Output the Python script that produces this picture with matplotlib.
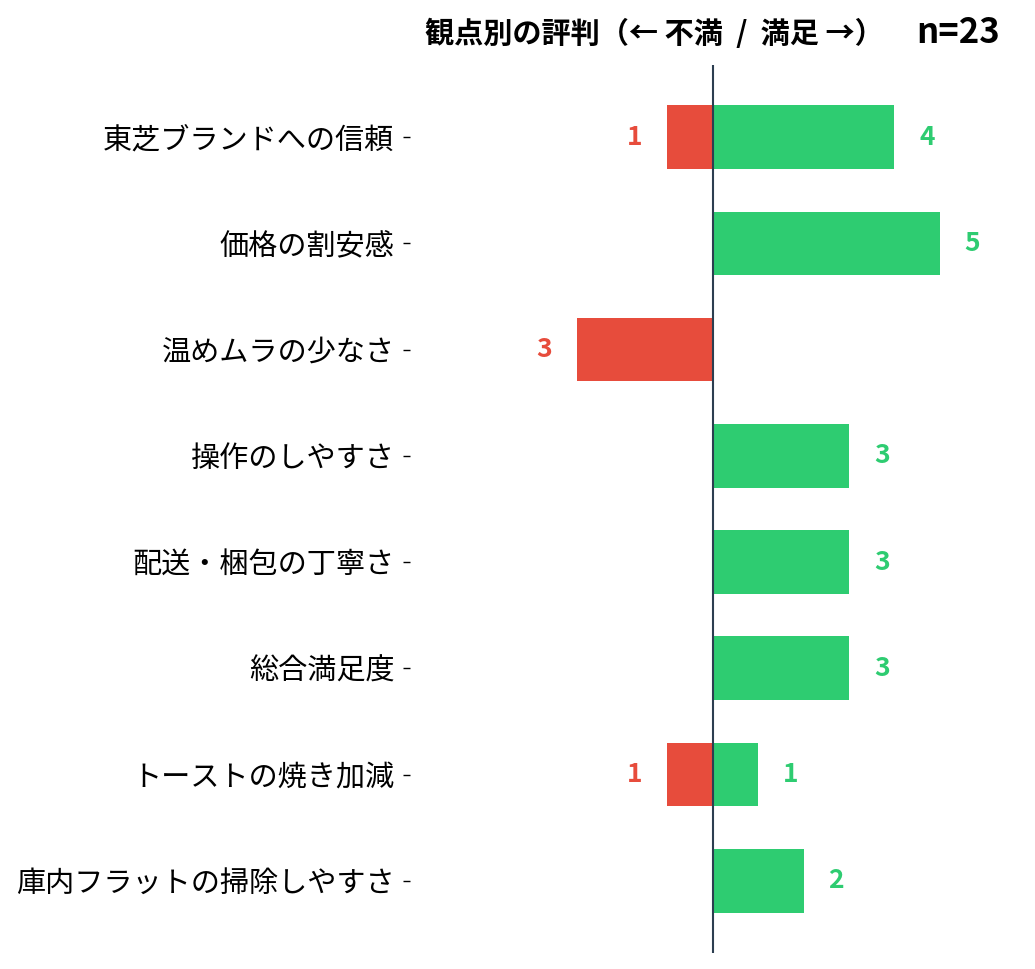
import matplotlib
matplotlib.use('Agg')
import matplotlib.pyplot as plt

plt.rcParams['font.family'] = ['Noto Sans CJK JP', 'DejaVu Sans']

aspects = [
    '東芝ブランドへの信頼', '価格の割安感', '温めムラの少なさ', '操作のしやすさ',
    '配送・梱包の丁寧さ', '総合満足度', 'トーストの焼き加減', '庫内フラットの掃除しやすさ',
]
negative = [1, 0, 3, 0, 0, 0, 1, 0]
positive = [4, 5, 0, 3, 3, 3, 1, 2]
n_reviews = 23

red = '#e74c3c'
green = '#2ecc71'
navy = '#2c3e50'

fig = plt.figure(figsize=(10.35, 9.69), dpi=100)
ax = fig.add_axes([0.396, 0.0165, 0.57, 0.9165])

y = range(len(aspects))
ax.barh(y, [-v for v in negative], height=0.6, color=red)
ax.barh(y, positive, height=0.6, color=green)
ax.axvline(0, color=navy, linewidth=1.5)

for i in y:
    if negative[i]:
        ax.text(-negative[i] - 0.72, i, str(negative[i]), color=red,
                ha='center', va='center', fontsize=19, fontweight='bold')
    if positive[i]:
        ax.text(positive[i] + 0.72, i, str(positive[i]), color=green,
                ha='center', va='center', fontsize=19, fontweight='bold')

ax.set_yticks(list(y))
ax.set_yticklabels(aspects, fontsize=21)
ax.invert_yaxis()
ax.set_xlim(-6.67, 6.32)
ax.set_xticks([])
for s in ax.spines.values():
    s.set_visible(False)
ax.tick_params(axis='y', length=5, width=1, pad=6)

ax.text(0.415, 1.025, '観点別の評判（← 不満  /  満足 →）', transform=ax.transAxes,
        ha='center', va='baseline', fontsize=21, fontweight='bold')
ax.text(1.0, 1.025, f'n={n_reviews}', transform=ax.transAxes,
        ha='right', va='baseline', fontsize=25, fontweight='bold')

fig.savefig('out.png', dpi=100)
